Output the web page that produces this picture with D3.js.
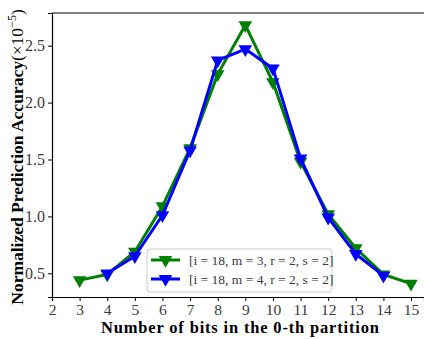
<!DOCTYPE html>
<html>
<head>
<meta charset="utf-8">
<script src="https://cdn.jsdelivr.net/npm/d3@7"></script>
<style>
  body { margin: 0; background: #fff; }
  text { font-family: "Liberation Serif", "DejaVu Serif", serif; }
</style>
</head>
<body>
<div id="chart"></div>
<script>
var bits = [3, 4, 5, 6, 7, 8, 9, 10, 11, 12, 13, 14, 15];
var accM3 = [0.44, 0.49, 0.69, 1.09, 1.60, 2.25, 2.68, 2.18, 1.48, 1.02, 0.72, 0.49, 0.41];
var bitsM4 = [4, 5, 6, 7, 8, 9, 10, 11, 12, 13, 14];
var accM4 = [0.50, 0.65, 1.01, 1.58, 2.37, 2.47, 2.30, 1.51, 0.99, 0.67, 0.48];
var xTicks = [2, 3, 4, 5, 6, 7, 8, 9, 10, 11, 12, 13, 14, 15];
var yTicks = [0.5, 1.0, 1.5, 2.0, 2.5];
var seriesNames = ['[i = 18, m = 3, r = 2, s = 2]', '[i = 18, m = 4, r = 2, s = 2]'];

function initLineChart(divId) {
  var W = 424, H = 339;
  var marginLeft = 52, marginTop = 13, marginBottom = 42, marginRight = 0;
  var width = W - marginLeft - marginRight,
      height = H - marginTop - marginBottom;

  var svg = d3.select('#' + divId)
    .append('svg')
    .attr('width', W)
    .attr('height', H);

  var x = d3.scaleLinear().domain([2, 15.47]).range([0, width]),
      y = d3.scaleLinear().domain([0.292, 2.787]).range([height, 0]);

  var g = svg.append('g')
    .attr('transform', 'translate(' + marginLeft + ',' + marginTop + ')');

  var xAxis = g.append('g')
    .attr('transform', 'translate(0,' + height + ')')
    .call(d3.axisBottom(x).tickValues(xTicks).tickFormat(d3.format('d')).tickSize(4).tickPadding(3));
  var yAxis = g.append('g')
    .call(d3.axisLeft(y).tickValues(yTicks).tickFormat(d3.format('.1f')).tickSize(4).tickPadding(3));

  [xAxis, yAxis].forEach(function(a) {
    a.selectAll('path').attr('stroke', '#000').attr('stroke-width', 1.2);
    a.selectAll('line').attr('stroke', '#000');
    a.selectAll('text').attr('font-size', 16).attr('fill', '#3a3a3a');
  });
  xAxis.selectAll('text').attr('font-size', 15.5);

  // top spine
  g.append('line')
    .attr('x1', 0).attr('x2', width).attr('y1', 0).attr('y2', 0)
    .attr('stroke', '#000').attr('stroke-width', 1.2);

  var tri = d3.symbol().type(d3.symbolTriangle).size(80);

  function drawSeries(xs, ys, color) {
    var pts = xs.map(function(d, i) { return [d, ys[i]]; });
    g.append('path')
      .datum(pts)
      .attr('fill', 'none')
      .attr('stroke', color)
      .attr('stroke-width', 3)
      .attr('stroke-linejoin', 'round')
      .attr('d', d3.line().x(function(d) { return x(d[0]); }).y(function(d) { return y(d[1]); }));
    g.selectAll(null)
      .data(pts)
      .enter().append('path')
      .attr('d', tri)
      .attr('fill', color)
      .attr('transform', function(d) { return 'translate(' + x(d[0]) + ',' + y(d[1]) + ') rotate(180)'; });
  }

  drawSeries(bits, accM3, 'green');
  drawSeries(bitsM4, accM4, 'blue');

  // legend
  var lg = svg.append('g').attr('transform', 'translate(147,249)');
  lg.append('rect')
    .attr('width', 185).attr('height', 43).attr('rx', 3)
    .attr('fill', '#fff').attr('fill-opacity', 0.8)
    .attr('stroke', '#ccc');
  [['green', seriesNames[0]], ['blue', seriesNames[1]]].forEach(function(s, i) {
    var yy = 11 + i * 19;
    lg.append('line')
      .attr('x1', 4).attr('x2', 33).attr('y1', yy).attr('y2', yy)
      .attr('stroke', s[0]).attr('stroke-width', 3);
    lg.append('path')
      .attr('d', tri)
      .attr('fill', s[0])
      .attr('transform', 'translate(18.5,' + yy + ') rotate(180)');
    lg.append('text')
      .attr('x', 42).attr('y', yy + 5)
      .attr('font-size', 13.5)
      .attr('fill', '#3a3a3a')
      .text(s[1]);
  });

  // axis labels
  svg.append('text')
    .attr('x', 101)
    .attr('y', 333)
    .attr('font-size', 16.5)
    .attr('font-weight', 'bold')
    .attr('textLength', 278)
    .attr('lengthAdjust', 'spacing')
    .text('Number of bits in the 0-th partition');

  var yl = svg.append('text')
    .attr('transform', 'translate(23,157) rotate(-90)')
    .attr('text-anchor', 'middle')
    .attr('font-size', 17.5);
  yl.append('tspan').attr('font-weight', 'bold').text('Normalized Prediction Accuracy');
  yl.append('tspan').text('(\u00d710');
  yl.append('tspan').attr('font-size', 12).attr('dy', -7).text('\u22125');
  yl.append('tspan').attr('dy', 7).text(')');
}

initLineChart('chart');
</script>
</body>
</html>
